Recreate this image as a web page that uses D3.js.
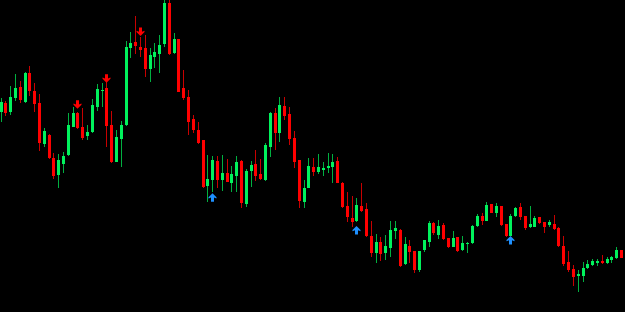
<!DOCTYPE html>
<html>
<head>
<meta charset="utf-8">
<script src="https://cdn.jsdelivr.net/npm/d3@7/dist/d3.min.js"></script>
<style>
html,body{margin:0;padding:0;background:#000;overflow:hidden;}
svg{display:block;}
</style>
</head>
<body>
<svg id="chart" width="625" height="312"></svg>
<script>
const openP = [120.03,120.93,120.03,121.45,122.47,121.00,123.95,122.10,120.93,116.77,117.70,115.43,113.70,114.80,115.70,118.53,119.93,118.47,117.60,118.03,
120.47,122.10,122.37,118.70,115.03,117.30,118.70,126.40,127.03,126.53,126.37,124.27,125.53,125.77,126.77,130.93,125.87,127.27,122.37,121.53,
119.27,118.20,117.20,112.63,113.25,115.10,113.20,113.90,112.93,113.60,115.13,110.77,114.10,114.80,113.80,113.20,116.53,119.87,117.87,120.60,
119.80,117.37,115.20,111.03,112.43,114.53,114.03,114.20,114.40,114.47,115.13,112.93,110.63,109.43,109.10,110.60,110.27,107.60,105.87,106.97,
105.87,106.40,108.13,108.25,104.80,106.60,106.13,104.20,106.20,107.03,108.87,107.70,108.70,107.43,106.53,107.53,106.20,106.84,106.87,108.60,
109.60,109.13,110.80,109.87,110.63,108.80,107.63,109.63,110.47,109.60,108.47,108.53,109.47,108.97,108.70,108.80,108.37,106.60,105.03,104.27,
103.60,103.60,104.37,104.70,104.87,105.10,104.87,105.20,105.37,106.20];
const highP = [121.37,121.15,122.60,123.80,123.15,124.03,124.60,122.87,121.77,118.43,117.80,115.87,115.77,116.03,119.90,120.53,120.00,120.37,118.70,121.27,
122.80,122.90,123.13,120.10,118.20,119.13,127.10,128.05,129.65,127.53,127.70,126.37,126.87,127.70,131.20,131.20,127.87,127.30,124.20,122.20,
119.70,119.00,117.25,115.70,115.60,115.60,115.70,115.35,114.60,115.60,115.20,114.27,115.13,116.20,115.27,116.87,120.03,120.37,121.53,121.47,
120.53,118.13,115.25,113.20,115.37,115.37,115.80,114.97,115.93,115.77,115.47,113.00,112.03,111.60,111.43,112.87,110.90,109.10,107.80,107.53,
107.70,109.10,109.10,108.30,107.53,107.20,106.15,106.15,107.25,109.10,109.03,109.20,108.93,107.45,108.10,107.55,107.60,107.03,108.70,109.80,
109.93,111.03,110.85,110.93,110.65,108.85,109.80,110.47,110.87,109.65,110.60,109.60,109.50,109.00,109.20,109.70,108.53,107.60,106.13,104.70,
104.20,105.03,105.20,105.27,105.27,105.70,105.53,105.60,106.53,106.20];
const lowP = [119.03,119.60,119.70,121.10,120.87,120.87,121.60,120.03,116.13,116.53,115.30,113.27,112.43,113.87,115.60,118.50,118.35,117.20,117.20,117.95,
120.13,120.50,116.53,114.90,115.00,114.53,118.60,125.37,125.80,125.53,123.47,123.03,124.37,123.93,126.53,125.70,125.80,122.00,121.20,117.70,
117.87,116.85,112.40,111.03,112.03,112.37,112.15,113.00,112.03,112.03,110.37,110.53,112.53,113.13,113.20,113.10,115.47,116.20,117.03,119.20,
116.70,114.37,110.45,110.37,112.40,113.63,113.77,113.60,113.87,112.93,112.90,110.40,109.03,108.47,109.05,110.03,107.53,105.53,104.87,105.13,
105.20,105.53,107.30,104.47,104.75,104.93,103.87,104.03,106.03,106.53,107.70,107.30,107.25,106.45,106.50,106.05,106.15,105.87,106.85,108.55,
108.70,109.10,109.90,109.53,108.60,107.47,107.60,109.53,109.20,108.20,108.37,108.50,108.80,107.93,108.47,108.20,106.55,104.60,104.03,102.60,
102.03,103.03,104.35,104.60,104.60,104.85,104.85,104.93,105.35,105.40];
const closeP = [121.03,119.93,121.55,122.37,121.25,123.95,122.10,120.80,116.87,118.10,115.37,113.60,115.20,115.60,118.70,119.87,118.43,117.43,118.03,120.70,
122.30,122.25,118.63,114.97,117.53,118.70,126.53,126.90,126.60,126.20,124.30,125.70,125.97,126.70,130.93,125.77,127.27,122.03,121.43,119.03,
118.20,116.90,112.47,113.27,115.20,113.20,113.90,113.03,113.77,115.03,110.93,114.13,114.70,113.60,113.27,116.70,119.93,117.93,120.70,119.60,
117.27,115.03,111.10,112.45,114.60,113.97,114.47,114.37,114.60,114.97,112.93,110.47,109.47,108.97,110.70,110.13,107.63,105.87,107.00,105.80,
106.60,108.20,108.37,104.60,106.77,106.03,104.20,106.13,107.20,108.87,107.87,108.60,107.27,106.47,107.37,106.10,106.93,106.87,108.60,109.60,
109.13,110.70,109.93,110.60,108.70,107.63,109.60,110.37,109.53,108.43,108.80,109.37,108.87,108.53,108.97,108.27,106.60,104.80,104.20,103.53,
103.80,104.37,104.77,105.10,105.10,104.87,105.30,105.47,106.20,105.43];

// signal arrows: candle index and price at arrow tip
const buyIdx = [44, 74, 106];
const buyPrice = [111.87, 108.60, 107.60];
const sellIdx = [16, 22, 29];
const sellPrice = [120.33, 122.93, 127.60];

const W = 625, H = 312;
const n = openP.length;
const candles = d3.range(n).map(i => ({i, o: openP[i], h: highP[i], l: lowP[i], c: closeP[i]}));

const x = d3.scalePoint().domain(d3.range(n)).range([1, 621.5]);
const y = d3.scaleLinear().domain([100, 131.2]).range([H, 0]);

const svg = d3.select('#chart');
svg.append('rect').attr('width', W).attr('height', H).attr('fill', '#000');

const upBody = '#00f25c', downBody = '#ff0000';
const upWick = '#00b040', downWick = '#c80000';

const g = svg.append('g').attr('shape-rendering', 'crispEdges');
const left = d => Math.round(x(d.i) - 1.5);

const cg = g.selectAll('g.c').data(candles).join('g').attr('class', 'c');
cg.append('rect')
  .attr('x', d => left(d) + 1)
  .attr('width', 1)
  .attr('y', d => y(d.h))
  .attr('height', d => Math.max(1, y(d.l) - y(d.h)))
  .attr('fill', d => d.c >= d.o ? upWick : downWick);
cg.append('rect')
  .attr('x', d => left(d))
  .attr('width', 3)
  .attr('y', d => y(Math.max(d.o, d.c)))
  .attr('height', d => Math.max(1, Math.abs(y(d.o) - y(d.c))))
  .attr('fill', d => d.c >= d.o ? upBody : downBody);

// arrow glyph: tip at (0,0), pointing up
const arrowPath = 'M0,0 L4,4 L4,5.2 L1.5,4.2 L1.5,8.5 L-1.5,8.5 L-1.5,4.2 L-4,5.2 L-4,4 Z';

svg.selectAll('path.buy').data(buyIdx.map((k, j) => ({i: k, p: buyPrice[j]})))
  .join('path').attr('class', 'buy')
  .attr('d', arrowPath)
  .attr('transform', d => `translate(${Math.round(x(d.i) - 1.5) + 1.5},${y(d.p)})`)
  .attr('fill', '#1e90ff');

svg.selectAll('path.sell').data(sellIdx.map((k, j) => ({i: k, p: sellPrice[j]})))
  .join('path').attr('class', 'sell')
  .attr('d', arrowPath)
  .attr('transform', d => `translate(${Math.round(x(d.i) - 1.5) + 1.5},${y(d.p)}) scale(1,-1)`)
  .attr('fill', '#ff0000');
</script>
</body>
</html>
